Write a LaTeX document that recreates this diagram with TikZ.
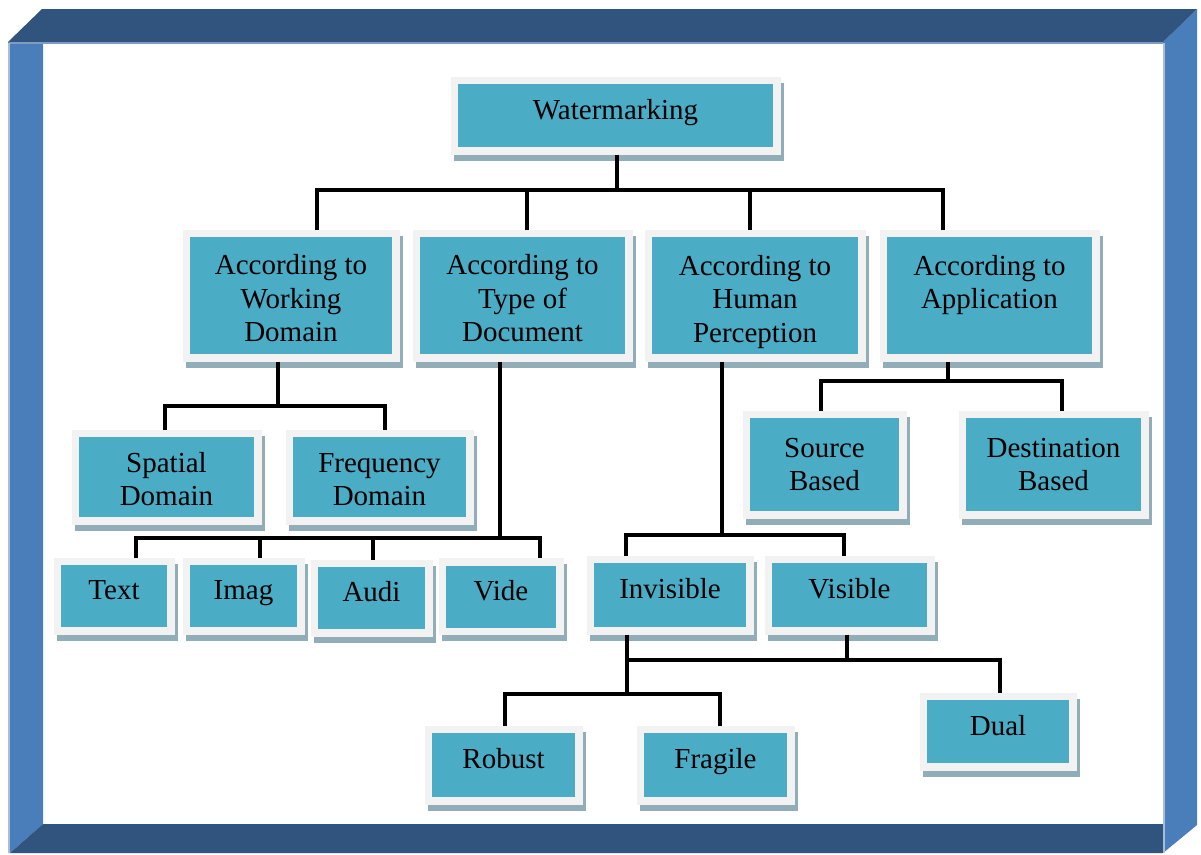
\documentclass[tikz,border=0pt]{standalone}
\usepackage{fontspec}
\setmainfont{Liberation Serif}
\usetikzlibrary{backgrounds}
\definecolor{framedark}{HTML}{31547E}
\definecolor{framelight}{HTML}{4A7EBB}
\definecolor{framehi}{HTML}{7F9BBF}
\definecolor{framepale}{HTML}{A9BDD8}
\definecolor{boxfill}{HTML}{4BACC6}
\definecolor{boxrim}{HTML}{F2F2F2}
\definecolor{boxshade}{HTML}{91ADB8}
% taller first line so that the first-level captions sit a little lower
\newcommand{\firstline}{\rule{0pt}{26pt}}
% a line whose descenders do not count
\newcommand{\nodepth}[1]{\raisebox{0pt}[\height][0pt]{#1}}
\begin{document}
\begin{tikzpicture}[x=1pt,y=-1pt,
  box/.style={rectangle, fill=boxfill, draw=boxrim, line width=7.5pt,
    align=center, inner sep=0pt, font=\fontsize{29}{33.5}\selectfont},
  oneline/.style={text height=19pt, text depth=12pt},
  conn/.style={draw=black, line width=3.6pt}]
\useasboundingbox (0,0) rectangle (1201,854);

% bevelled frame
\fill[framelight] (8,42) -- (43,42) -- (43,824) -- (10,853) -- (8,853) -- cycle;
\fill[framelight] (1163,42) -- (1197,9) -- (1197,825) -- (1163,853) -- cycle;
\fill[framedark] (42,9) -- (1197,9) -- (1163,42) -- (8,42) -- cycle;
\fill[framedark] (43,824) -- (1163,824) -- (1163,853) -- (10,853) -- cycle;
\draw[framehi, line width=2pt] (9,43) -- (1163,43);
\draw[framepale, line width=2pt] (9,43) -- (9,853);
\draw[framepale, line width=2pt] (1164,43) -- (1164,853);

% root
\node[box, oneline, minimum width=322.5pt, minimum height=70.5pt] (wm) at (615.5,115.5) {Watermarking};

% first level
\node[box, minimum width=209.5pt, minimum height=124.5pt] (wd) at (291,295.5) {\firstline According to\\Working\\Domain};
\node[box, minimum width=212.5pt, minimum height=124.5pt] (td) at (522.5,295.5) {\firstline According to\\Type of\\Document};
\node[box, minimum width=213.5pt, minimum height=124.5pt] (hp) at (755,295.5) {\firstline According to\\Human\\\nodepth{Perception}};
\node[box, minimum width=212.5pt, minimum height=124.5pt] (ap) at (989.5,295.5) {\firstline According to\\Application\\\mbox{}};

% second level
\node[box, minimum width=182.5pt, minimum height=87.5pt] (sd) at (166.5,477) {\rule{0pt}{24pt}Spatial\\Domain};
\node[box, minimum width=180.5pt, minimum height=87.5pt] (fd) at (379.5,477) {\rule{0pt}{24pt}Frequency\\Domain};
\node[box, minimum width=156.5pt, minimum height=100.5pt] (sb) at (824.5,464.5) {Source\\Based};
\node[box, minimum width=182.5pt, minimum height=100.5pt] (db) at (1053.5,464.5) {Destination\\Based};

\node[box, oneline, minimum width=113.5pt, minimum height=69.5pt] (tx) at (114,596) {Text};
\node[box, oneline, minimum width=114.5pt, minimum height=69.5pt] (im) at (243.5,596) {Imag};
\node[box, oneline, minimum width=114.5pt, minimum height=69.5pt] (au) at (371.5,598) {Audi};
\node[box, oneline, minimum width=117.5pt, minimum height=69.5pt] (vi) at (501,596.5) {Vide};
\node[box, oneline, minimum width=159.5pt, minimum height=71.5pt] (inv) at (670,595) {Invisible};
\node[box, oneline, minimum width=162.5pt, minimum height=71.5pt] (vis) at (849.5,595) {Visible};

% third level
\node[box, oneline, minimum width=150.5pt, minimum height=71.5pt] (rb) at (503.5,765) {Robust};
\node[box, oneline, minimum width=150.5pt, minimum height=71.5pt] (fr) at (715.5,765) {Fragile};
\node[box, oneline, minimum width=149.5pt, minimum height=70.5pt] (du) at (998,731.5) {Dual};

% drop shadows
\begin{scope}[on background layer]
\foreach \n in {wm,wd,td,hp,ap,sd,fd,sb,db,tx,im,au,vi,inv,vis,rb,fr,du}
  \fill[boxshade] ([shift={(3,6)}]\n.north west) rectangle ([shift={(3,6)}]\n.south east);
\end{scope}

% junctions of the tree
\coordinate (j1) at (617,190);
\coordinate (j2) at (278,406);
\coordinate (j3) at (500,538);
\coordinate (j4) at (722,535);
\coordinate (j5) at (948,381);
\coordinate (j6) at (627,694);
\coordinate (j7) at (847,660);

% connectors
\draw[conn] (j1 |- wm.south) -- (j1);
\draw[conn] (j1) -| (317,0 |- wd.north);
\draw[conn] (j1) -| (527,0 |- td.north);
\draw[conn] (j1) -| (750,0 |- hp.north);
\draw[conn] (j1) -| (943,0 |- ap.north);

\draw[conn] (j2 |- wd.south) -- (j2);
\draw[conn] (j2) -| (165,0 |- sd.north);
\draw[conn] (j2) -| (385,0 |- fd.north);

\draw[conn] (j3 |- td.south) -- (j3);
\draw[conn] (j3) -| (136,0 |- tx.north);
\draw[conn] (j3) -| (260,0 |- im.north);
\draw[conn] (j3) -| (373,0 |- au.north);
\draw[conn] (j3) -| (540,0 |- vi.north);

\draw[conn] (j4 |- hp.south) -- (j4);
\draw[conn] (j4) -| (626,0 |- inv.north);
\draw[conn] (j4) -| (844,0 |- vis.north);

\draw[conn] (j5 |- ap.south) -- (j5);
\draw[conn] (j5) -| (821,0 |- sb.north);
\draw[conn] (j5) -| (1062,0 |- db.north);

\draw[conn] (j6 |- inv.south) -- (j6);
\draw[conn] (j6) -| (505,0 |- rb.north);
\draw[conn] (j6) -| (720,0 |- fr.north);

\draw[conn] (j7 |- vis.south) -- (j7);
\draw[conn] (j7) -- (j6 |- j7);
\draw[conn] (j7) -| (1000,0 |- du.north);
\end{tikzpicture}
\end{document}
